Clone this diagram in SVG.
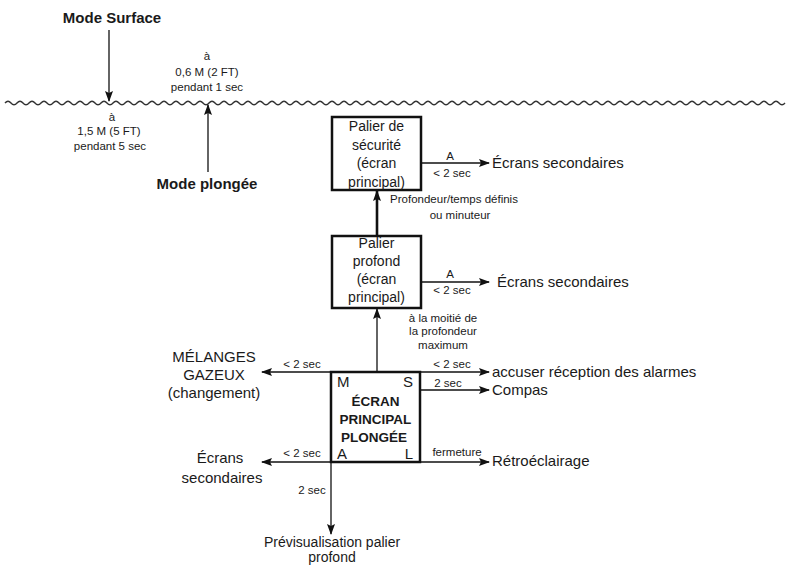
<svg xmlns="http://www.w3.org/2000/svg" width="806" height="565" viewBox="0 0 806 565">
<style>
text{font-family:"Liberation Sans",Arial,sans-serif;fill:#1a1a1a}
.lg{font-size:15px}
.bx{font-size:14px;text-anchor:middle}
.sm{font-size:11.5px}
.c{text-anchor:middle}
.e{text-anchor:end}
.b{font-weight:bold}
.box{fill:#fff;stroke:#111;stroke-width:2.5}
.ln{stroke:#111;stroke-width:1.3;fill:none}
.thick{stroke:#111;stroke-width:2.6;fill:none}
</style>
<defs>
<marker id="ah" markerUnits="userSpaceOnUse" markerWidth="11" markerHeight="8" refX="10" refY="4" orient="auto">
<path d="M0,0 L11,4 L0,8 L2,4 z" fill="#111"/>
</marker>
</defs>
<path id="wave" fill="none" stroke="#333" stroke-width="1.4" d="M5 103 q3 -3.5 6 0 t6 0 t6 0 t6 0 t6 0 t6 0 t6 0 t6 0 t6 0 t6 0 t6 0 t6 0 t6 0 t6 0 t6 0 t6 0 t6 0 t6 0 t6 0 t6 0 t6 0 t6 0 t6 0 t6 0 t6 0 t6 0 t6 0 t6 0 t6 0 t6 0 t6 0 t6 0 t6 0 t6 0 t6 0 t6 0 t6 0 t6 0 t6 0 t6 0 t6 0 t6 0 t6 0 t6 0 t6 0 t6 0 t6 0 t6 0 t6 0 t6 0 t6 0 t6 0 t6 0 t6 0 t6 0 t6 0 t6 0 t6 0 t6 0 t6 0 t6 0 t6 0 t6 0 t6 0 t6 0 t6 0 t6 0 t6 0 t6 0 t6 0 t6 0 t6 0 t6 0 t6 0 t6 0 t6 0 t6 0 t6 0 t6 0 t6 0 t6 0 t6 0 t6 0 t6 0 t6 0 t6 0 t6 0 t6 0 t6 0 t6 0 t6 0 t6 0 t6 0 t6 0 t6 0 t6 0 t6 0 t6 0 t6 0 t6 0 t6 0 t6 0 t6 0 t6 0 t6 0 t6 0 t6 0 t6 0 t6 0 t6 0 t6 0 t6 0 t6 0 t6 0 t6 0 t6 0 t6 0 t6 0 t6 0 t6 0 t6 0 t6 0 t6 0 t6 0 t6 0 t6 0 t6 0 t6 0 t6 0 t6 0"/>

<g id="connectors">
<line class="ln" x1="109" y1="30" x2="109" y2="101" marker-end="url(#ah)"/>
<line class="ln" x1="208" y1="172" x2="208" y2="105" marker-end="url(#ah)"/>
<line class="thick" x1="377" y1="236" x2="377" y2="191" marker-end="url(#ah)"/>
<line class="ln" x1="377" y1="372" x2="377" y2="309" marker-end="url(#ah)"/>
<line class="ln" x1="421" y1="163" x2="489" y2="163" marker-end="url(#ah)"/>
<line class="ln" x1="421" y1="282" x2="489" y2="282" marker-end="url(#ah)"/>
<line class="ln" x1="331" y1="372" x2="262" y2="372" marker-end="url(#ah)"/>
<line class="ln" x1="331" y1="462" x2="262" y2="462" marker-end="url(#ah)"/>
<line class="ln" x1="331" y1="462" x2="331" y2="534" marker-end="url(#ah)"/>
<line class="ln" x1="420" y1="372" x2="489" y2="372" marker-end="url(#ah)"/>
<line class="ln" x1="420" y1="390" x2="489" y2="390" marker-end="url(#ah)"/>
<line class="ln" x1="420" y1="462" x2="489" y2="462" marker-end="url(#ah)"/>
<text class="sm c" x="450" y="160">A</text>
<text class="sm c" x="452" y="177">&lt; 2 sec</text>
<text class="sm c" x="450" y="278">A</text>
<text class="sm c" x="452" y="294">&lt; 2 sec</text>
<text class="sm c" x="454" y="203">Profondeur/temps définis</text>
<text class="sm c" x="460" y="219">ou minuteur</text>
<text class="sm c" x="443" y="322">à la moitié de</text>
<text class="sm c" x="443" y="335">la profondeur</text>
<text class="sm c" x="443" y="349">maximum</text>
<text class="sm c" x="302" y="368">&lt; 2 sec</text>
<text class="sm c" x="302" y="457">&lt; 2 sec</text>
<text class="sm c" x="312" y="494">2 sec</text>
<text class="sm c" x="452" y="368">&lt; 2 sec</text>
<text class="sm c" x="448" y="387">2 sec</text>
<text class="sm c" x="457" y="456">fermeture</text>
<text class="sm c" x="112" y="121">à</text>
<text class="sm c" x="109" y="135">1,5 M (5 FT)</text>
<text class="sm c" x="110" y="150">pendant 5 sec</text>
<text class="sm c" x="207" y="60">à</text>
<text class="sm c" x="207" y="76">0,6 M (2 FT)</text>
<text class="sm c" x="207" y="91">pendant 1 sec</text>
</g>

<g id="mode-surface"><text class="lg b c" x="112" y="23">Mode Surface</text></g>
<g id="mode-plongee"><text class="lg b c" x="207" y="189">Mode plongée</text></g>

<g id="palier-securite">
<rect class="box" x="332" y="117" width="89" height="73"/>
<text class="bx" x="376.5" y="131">Palier de</text>
<text class="bx" x="376.5" y="149.5">sécurité</text>
<text class="bx" x="376.5" y="168">(écran</text>
<text class="bx" x="376.5" y="186.5">principal)</text>
</g>

<g id="palier-profond">
<rect class="box" x="332" y="236" width="89" height="72"/>
<text class="bx" x="376.5" y="248">Palier</text>
<text class="bx" x="376.5" y="266">profond</text>
<text class="bx" x="376.5" y="284">(écran</text>
<text class="bx" x="376.5" y="302">principal)</text>
</g>

<g id="ecran-principal">
<rect class="box" x="331" y="372" width="89" height="90"/>
<text class="lg" x="337" y="387">M</text>
<text class="lg e" x="413" y="387">S</text>
<text class="lg" x="337" y="459">A</text>
<text class="lg e" x="413" y="459">L</text>
<text class="b c" style="font-size:13.5px" x="375.5" y="406">ÉCRAN</text>
<text class="b c" style="font-size:13.5px" x="375.5" y="424">PRINCIPAL</text>
<text class="b c" style="font-size:13.5px" x="374" y="442">PLONGÉE</text>
</g>

<g id="ecrans-sec-1"><text class="lg" x="492" y="168">Écrans secondaires</text></g>
<g id="ecrans-sec-2"><text class="lg" x="497" y="287">Écrans secondaires</text></g>
<g id="alarmes"><text class="lg" x="492" y="377">accuser réception des alarmes</text></g>
<g id="compas"><text class="lg" x="492" y="395">Compas</text></g>
<g id="retro"><text class="lg" x="492" y="466">Rétroéclairage</text></g>
<g id="melanges">
<text class="lg c" x="214" y="362">MÉLANGES</text>
<text class="lg c" x="214" y="380">GAZEUX</text>
<text class="lg c" x="214" y="398">(changement)</text>
</g>
<g id="ecrans-sec-3">
<text class="lg c" x="220" y="463">Écrans</text>
<text class="lg c" x="222" y="483">secondaires</text>
</g>
<g id="previsualisation">
<text class="c" style="font-size:14px" x="332" y="547">Prévisualisation palier</text>
<text class="c" style="font-size:14px" x="332" y="562">profond</text>
</g>
</svg>
